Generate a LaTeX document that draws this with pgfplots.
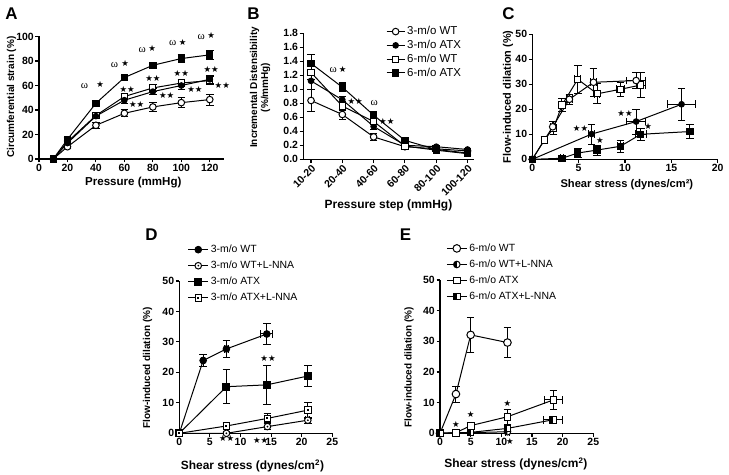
\documentclass[border=0pt]{standalone}
\usepackage{fontspec}
\setmainfont{Liberation Sans}
\newfontfamily\symfont{DejaVu Sans}
\newfontfamily\omfont{Liberation Serif}
\usepackage{pgfplots}
\usepackage{pgfplotstable}
\pgfplotsset{compat=1.18}

% marks: circle/square with a dot, half filled circle/square
\pgfdeclareplotmark{dotcircle}{%
  \pgfsetfillcolor{white}%
  \pgfpathcircle{\pgfpointorigin}{\pgfplotmarksize}\pgfusepathqfillstroke
  \pgfsetfillcolor{black}%
  \pgfpathcircle{\pgfpointorigin}{0.3\pgfplotmarksize}\pgfusepathqfill}
\pgfdeclareplotmark{dotsquare}{%
  \pgfsetfillcolor{white}%
  \pgfpathrectangle{\pgfqpoint{-\pgfplotmarksize}{-\pgfplotmarksize}}{\pgfqpoint{2\pgfplotmarksize}{2\pgfplotmarksize}}\pgfusepathqfillstroke
  \pgfsetfillcolor{black}%
  \pgfpathrectangle{\pgfqpoint{-0.3\pgfplotmarksize}{-0.3\pgfplotmarksize}}{\pgfqpoint{0.6\pgfplotmarksize}{0.6\pgfplotmarksize}}\pgfusepathqfill}
\pgfdeclareplotmark{halfcirc}{%
  \pgfsetfillcolor{white}%
  \pgfpathcircle{\pgfpointorigin}{\pgfplotmarksize}\pgfusepathqfill
  \pgfsetfillcolor{black}%
  \pgfpathmoveto{\pgfqpoint{0pt}{\pgfplotmarksize}}%
  \pgfpatharc{90}{270}{\pgfplotmarksize}%
  \pgfpathclose\pgfusepathqfill
  \pgfpathcircle{\pgfpointorigin}{\pgfplotmarksize}\pgfusepathqstroke}
\pgfdeclareplotmark{halfsq}{%
  \pgfsetfillcolor{white}%
  \pgfpathrectangle{\pgfqpoint{-\pgfplotmarksize}{-\pgfplotmarksize}}{\pgfqpoint{2\pgfplotmarksize}{2\pgfplotmarksize}}\pgfusepathqfill
  \pgfsetfillcolor{black}%
  \pgfpathrectangle{\pgfqpoint{-\pgfplotmarksize}{-\pgfplotmarksize}}{\pgfqpoint{\pgfplotmarksize}{2\pgfplotmarksize}}\pgfusepathqfill
  \pgfpathrectangle{\pgfqpoint{-\pgfplotmarksize}{-\pgfplotmarksize}}{\pgfqpoint{2\pgfplotmarksize}{2\pgfplotmarksize}}\pgfusepathqstroke}

\pgfplotsset{
  gp/.style={
    scale only axis, clip=false,
    axis x line*=bottom, axis y line*=left,
    axis line style={line width=1.2bp, -},
    tick style={line width=1.1bp, black},
    tick align=outside, major tick length=3.5bp,
    tick label style={font=\bfseries\fontsize{10.5}{11}\selectfont, inner sep=1.5bp},
    /pgf/number format/assume math mode=true,
    xlabel style={font=\bfseries\fontsize{11.6}{12}\selectfont, anchor=center},
    ylabel style={font=\bfseries\fontsize{10}{11}\selectfont, anchor=center},
    error bars/error mark options={rotate=90, mark size=3.8bp, line width=1bp, solid},
    legend style={draw=none, fill=none, font=\fontsize{10.5}{11.5}\selectfont, anchor=north west,
      inner sep=0pt, nodes={inner sep=2bp}, row sep=0pt},
    legend cell align=left,
  },
  leg/.style={legend image code/.code={%
    \draw[mark repeat=2,mark phase=2] plot coordinates {(0bp,0bp) (#1bp,0bp) (#1bp*2,0bp)};}},
  owt/.style={black, line width=1bp, mark=*, mark size=3.3bp, mark options={fill=white, draw=black, line width=1bp}},
  fatx/.style={black, line width=1bp, mark=*, mark size=2.8bp, mark options={fill=black, line width=1bp}},
  sqwt/.style={black, line width=1bp, mark=square*, mark size=3.1bp, mark options={fill=white, line width=1bp}},
  sqatx/.style={black, line width=1bp, mark=square*, mark size=3.2bp, mark options={fill=black, line width=1bp}},
  dcirc/.style={black, line width=1bp, mark=dotcircle, mark size=3.3bp, mark options={line width=1bp}},
  dsq/.style={black, line width=1bp, mark=dotsquare, mark size=3.2bp, mark options={line width=1bp}},
  hcirc/.style={black, line width=1bp, mark=halfcirc, mark size=3.3bp, mark options={line width=1bp}},
  hsq/.style={black, line width=1bp, mark=halfsq, mark size=3.2bp, mark options={line width=1bp}},
}

\newcommand\yser[2]{%
  \addplot[forget plot, draw=none, error bars/.cd, y dir=both, y explicit,
    error bar style={draw=black, line width=1bp, solid}] table[x=x, y=y, y error=e] {#2};
  \addplot[#1] table[x=x, y=y] {#2};}
\newcommand\xyser[2]{%
  \addplot[forget plot, draw=none, error bars/.cd, x dir=both, x explicit, y dir=both, y explicit,
    error bar style={draw=black, line width=1bp, solid}] table[x=x, y=y, x error=ex, y error=ey] {#2};
  \addplot[#1] table[x=x, y=y] {#2};}

\newcommand\st{{\symfont\fontsize{8.5}{8.5}\selectfont ★}}
\newcommand\sst{{\symfont\fontsize{8.5}{8.5}\selectfont ★★}}
\newcommand\om{{\omfont\fontsize{11}{11}\selectfont ω}}

% Panel A: circumferential strain
\pgfplotstableread{
x y e
10 0 0
20 10 1.5
40 27.5 2.5
60 37.3 3
80 42.5 3.5
100 46 4
120 48.5 4.5
}\Awt
\pgfplotstableread{
x y e
10 0 0
20 13 1
40 35 2
60 48 2.5
80 55 2.5
100 60 3
120 65 3
}\Aatx
\pgfplotstableread{
x y e
10 0 0
20 14 1
40 35.5 2
60 51 2.5
80 58 3
100 62 3
120 64 3
}\Bwt
\pgfplotstableread{
x y e
10 0 0
20 16 1.5
40 45.5 2
60 66.5 2
80 76.5 2.5
100 82 3
120 85 3.5
}\Batx

% Panel B: incremental distensibility
\pgfplotstableread{
x y e
0 0.84 0.16
1 0.64 0.07
2 0.32 0.05
3 0.18 0.02
4 0.15 0.02
5 0.12 0.02
}\DAwt
\pgfplotstableread{
x y e
0 1.12 0.12
1 0.85 0.05
2 0.47 0.05
3 0.20 0.02
4 0.18 0.02
5 0.14 0.02
}\DAatx
\pgfplotstableread{
x y e
0 1.24 0.10
1 0.76 0.06
2 0.54 0.05
3 0.19 0.02
4 0.13 0.02
5 0.08 0.02
}\DBwt
\pgfplotstableread{
x y e
0 1.37 0.13
1 1.03 0.06
2 0.63 0.05
3 0.27 0.02
4 0.14 0.02
5 0.09 0.02
}\DBatx

% Panel C: flow-induced dilation
\pgfplotstableread{
x y ex ey
0 0 0 0
2.2 13 0.2 2
4.0 24 0.3 2
6.6 30.8 0.3 5.5
11.2 31.5 1.0 3.3
}\Cawt
\pgfplotstableread{
x y ex ey
0 0 0 0
6.4 10.1 0.3 4
11.2 15.1 1.0 5
16.1 22 1.5 6.5
}\Caatx
\pgfplotstableread{
x y ex ey
0 0 0 0
1.3 7.7 0.2 1.5
2.3 12.5 0.2 2.5
3.2 21.7 0.3 2.5
4.9 32 0.3 5.5
7.0 26.2 0.3 4
9.5 28 0.4 2.8
11.7 29.7 0.5 5
}\Cbwt
\pgfplotstableread{
x y ex ey
0 0 0 0
3.2 0.4 0.2 0.5
4.9 2.5 0.2 1.8
7.0 3.7 0.3 2
9.5 5.2 0.3 2.5
11.7 10 0.6 2.5
17.0 11.1 0.3 2.8
}\Cbatx

% Panel D: 3-m/o with L-NNA
\pgfplotstableread{
x y ex ey
0 0 0 0
3.9 23.9 0.2 2
7.7 27.7 0.3 2.8
14.3 32.6 1.0 3.5
}\Dwt
\pgfplotstableread{
x y ex ey
0 0 0 0
7.7 0 0.2 0.5
14.4 2.2 0.3 1
21 4.3 0.3 1
}\DwtL
\pgfplotstableread{
x y ex ey
0 0 0 0
7.7 15.3 0.3 5.6
14.3 15.9 0.3 6.5
21 18.8 0.3 3.3
}\Datx
\pgfplotstableread{
x y ex ey
0 0 0 0
7.7 2.4 0.2 1
14.4 4.9 0.3 1.5
21 7.6 0.3 2.6
}\DatxL

% Panel E: 6-m/o with L-NNA
\pgfplotstableread{
x y ex ey
0 0 0 0
2.6 12.8 0.2 2.6
5 32.1 0.2 5.8
11 29.6 0.3 5
}\Ewt
\pgfplotstableread{
x y ex ey
0 0 0 0
11 0.5 0.3 0.5
}\EwtL
\pgfplotstableread{
x y ex ey
0 0 0 0
2.6 0.2 0.2 0.3
5 2.5 0.2 1
11 5.4 0.3 2.5
18.5 10.9 1.5 3
}\Eatx
\pgfplotstableread{
x y ex ey
0 0 0 0
5 0.3 0.2 0.3
11 1.6 0.3 0.8
18.4 4.4 1.5 1
}\EatxL

\begin{document}
\begin{tikzpicture}
\useasboundingbox (0,0) rectangle (729bp,475bp);

\node[font=\bfseries\fontsize{17}{17}\selectfont] at (11.5bp,461.5bp) {A};
\node[font=\bfseries\fontsize{17}{17}\selectfont] at (253.5bp,461.5bp) {B};
\node[font=\bfseries\fontsize{17}{17}\selectfont] at (508.5bp,461.5bp) {C};
\node[font=\bfseries\fontsize{17}{17}\selectfont] at (151.5bp,240bp) {D};
\node[font=\bfseries\fontsize{17}{17}\selectfont] at (405.5bp,240bp) {E};

% ---------- A ----------
\begin{axis}[gp, at={(39bp,316bp)}, anchor=south west, width=185bp, height=122.5bp,
  xmin=0, xmax=130, ymin=0, ymax=100,
  xtick={0,20,...,120}, ytick={0,20,...,100},
  xlabel={Pressure (mmHg)}, ylabel={Circumferential strain (\%)},
  xlabel style={at={(axis description cs:0.51,-0.196)}},
  ylabel style={at={(axis description cs:-0.149,0.505)}}]
\yser{owt}{\Awt}
\yser{sqwt}{\Bwt}
\yser{fatx}{\Aatx}
\yser{sqatx}{\Batx}
\node[inner sep=0] at (axis cs:32,60) {\om};   \node[inner sep=0] at (axis cs:43,61) {\st};
\node[inner sep=0] at (axis cs:53,77) {\om};   \node[inner sep=0] at (axis cs:60.5,78) {\st};
\node[inner sep=0] at (axis cs:72.6,89) {\om}; \node[inner sep=0] at (axis cs:79.6,90) {\st};
\node[inner sep=0] at (axis cs:94,94.5) {\om}; \node[inner sep=0] at (axis cs:101,95.5) {\st};
\node[inner sep=0] at (axis cs:114,99.5) {\om}; \node[inner sep=0] at (axis cs:121,100.5) {\st};
\node[inner sep=0] at (axis cs:62,57) {\sst};
\node[inner sep=0] at (axis cs:80,66) {\sst};
\node[inner sep=0] at (axis cs:100,70) {\sst};
\node[inner sep=0] at (axis cs:121,73) {\sst};
\node[inner sep=0] at (axis cs:68.6,44.7) {\sst};
\node[inner sep=0] at (axis cs:89.7,51.8) {\sst};
\node[inner sep=0] at (axis cs:109.6,57) {\sst};
\node[inner sep=0] at (axis cs:128.8,59.7) {\sst};
\end{axis}

% ---------- B ----------
\begin{axis}[gp, at={(303.2bp,315.7bp)}, anchor=south west, width=170.6bp, height=126bp,
  xmin=-0.25, xmax=5.2, ymin=0, ymax=1.8,
  xtick={0,...,5}, xticklabels={10-20,20-40,40-60,60-80,80-100,100-120},
  ytick={0,0.2,...,1.8},
  yticklabel style={/pgf/number format/fixed, /pgf/number format/fixed zerofill, /pgf/number format/precision=1},
  xticklabel style={rotate=45, anchor=north east, inner sep=1bp},
  xlabel={Pressure step (mmHg)}, ylabel={Incremental Distensibility\\(\%/mmHg)},
  xlabel style={at={(axis description cs:0.5,-0.37)}, font=\bfseries\fontsize{12}{13}\selectfont},
  ylabel style={at={(axis description cs:-0.253,0.57)}, align=center},
  leg=9, legend style={at={(0.485,1.07)}, font=\fontsize{11.5}{12.5}\selectfont}]
\yser{owt}{\DAwt}
\addlegendentry{3-m/o WT}
\yser{fatx}{\DAatx}
\addlegendentry{3-m/o ATX}
\yser{sqwt}{\DBwt}
\addlegendentry{6-m/o WT}
\yser{sqatx}{\DBatx}
\addlegendentry{6-m/o ATX}
\node[inner sep=0] at (axis cs:0.71,1.27) {\om}; \node[inner sep=0] at (axis cs:1.01,1.28) {\st};
\node[inner sep=0] at (axis cs:1.41,0.83) {\sst};
\node[inner sep=0] at (axis cs:2.02,0.80) {\om};
\node[inner sep=0] at (axis cs:2.42,0.54) {\sst};
\end{axis}

% ---------- C ----------
\begin{axis}[gp, at={(532.3bp,315.7bp)}, anchor=south west, width=185.4bp, height=125bp,
  xmin=0, xmax=20, ymin=0, ymax=50,
  xtick={0,5,...,20}, ytick={0,10,...,50},
  xlabel={Shear stress (dynes/cm²)}, ylabel={Flow-induced dilation (\%)},
  xlabel style={at={(axis description cs:0.51,-0.2)}, font=\bfseries\fontsize{11.2}{12}\selectfont},
  ylabel style={at={(axis description cs:-0.131,0.5)}, font=\bfseries\fontsize{11}{12}\selectfont}]
\xyser{sqwt}{\Cbwt}
\xyser{owt}{\Cawt}
\xyser{sqatx}{\Cbatx}
\xyser{fatx}{\Caatx}
\node[inner sep=0] at (axis cs:5.2,12.4) {\sst};
\node[inner sep=0] at (axis cs:7.3,7.7) {\st};
\node[inner sep=0] at (axis cs:10,18.4) {\sst};
\node[inner sep=0] at (axis cs:12.5,13.3) {\st};
\end{axis}

% ---------- D ----------
\begin{axis}[gp, at={(179.3bp,41.7bp)}, anchor=south west, width=153bp, height=152.3bp,
  xmin=0, xmax=25, ymin=0, ymax=50,
  xtick={0,5,...,25}, ytick={0,10,...,50},
  xlabel={Shear stress (dynes/cm\textsuperscript{2})}, ylabel={Flow-induced dilation (\%)},
  xlabel style={at={(axis description cs:0.478,-0.213)}, font=\bfseries\fontsize{12}{13}\selectfont},
  ylabel style={at={(axis description cs:-0.208,0.43)}},
  leg=10, legend style={at={(0.054,1.25)}, row sep=3bp}]
\xyser{fatx, mark size=3.3bp}{\Dwt}
\addlegendentry{3-m/o WT}
\xyser{dcirc}{\DwtL}
\addlegendentry{3-m/o WT+L-NNA}
\xyser{sqatx, mark size=3.5bp}{\Datx}
\addlegendentry{3-m/o ATX}
\xyser{dsq}{\DatxL}
\addlegendentry{3-m/o ATX+L-NNA}
\node[inner sep=0] at (axis cs:14.5,24.6) {\sst};
\node[inner sep=0] at (axis cs:7.75,-1.8) {\sst};
\node[inner sep=0] at (axis cs:13.3,-2.3) {\sst};
\end{axis}

% ---------- E ----------
\begin{axis}[gp, at={(440bp,41.7bp)}, anchor=south west, width=153.3bp, height=153.3bp,
  xmin=0, xmax=25, ymin=0, ymax=50,
  xtick={0,5,...,25}, ytick={0,10,...,50},
  xlabel={Shear stress (dynes/cm\textsuperscript{2})}, ylabel={Flow-induced dilation (\%)},
  xlabel style={at={(axis description cs:0.495,-0.2)}, font=\bfseries\fontsize{12}{13}\selectfont},
  ylabel style={at={(axis description cs:-0.202,0.43)}},
  leg=10, legend style={at={(0.04,1.25)}, row sep=3bp}]
\xyser{owt, mark size=3.8bp}{\Ewt}
\addlegendentry{6-m/o WT}
\xyser{hcirc}{\EwtL}
\addlegendentry{6-m/o WT+L-NNA}
\xyser{sqwt, mark size=3.4bp}{\Eatx}
\addlegendentry{6-m/o ATX}
\xyser{hsq}{\EatxL}
\addlegendentry{6-m/o ATX+L-NNA}
\node[inner sep=0] at (axis cs:2.6,3) {\st};
\node[inner sep=0] at (axis cs:5,6) {\st};
\node[inner sep=0] at (axis cs:11,9.6) {\st};
\node[inner sep=0] at (axis cs:11.4,-2.7) {\st};
\end{axis}
\end{tikzpicture}
\end{document}
